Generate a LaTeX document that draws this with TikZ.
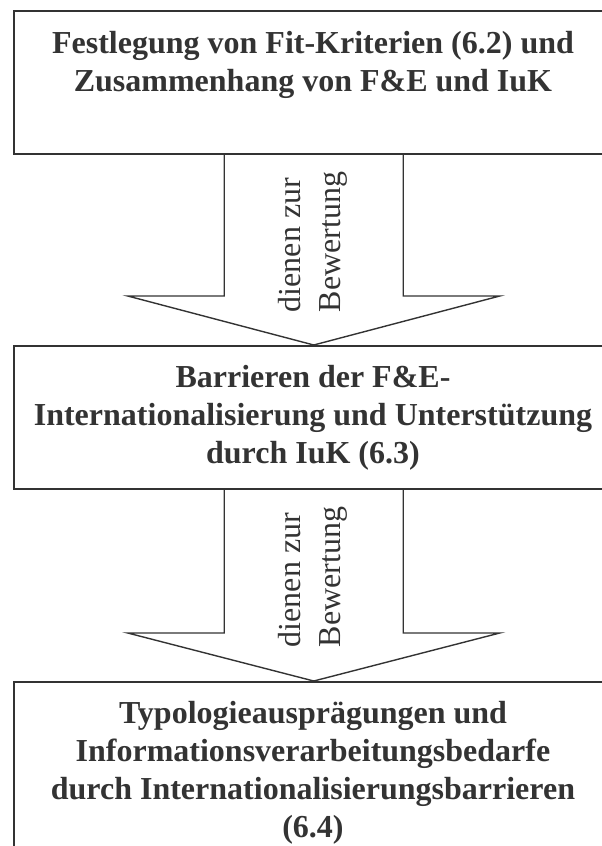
\documentclass[tikz,border=0pt]{standalone}
\usepackage{fontspec}
\setmainfont{Liberation Serif}
\usetikzlibrary{calc}
\definecolor{ink}{HTML}{333333}
\begin{document}
\begin{tikzpicture}[x=1pt,y=-1pt,
  stage/.style={draw=ink, line width=1.5pt, minimum width=600pt, anchor=north west, inner sep=0pt},
  stagetext/.style={text=ink, font=\fontsize{32}{38}\selectfont\bfseries, align=center, inner sep=0pt},
  flowarrow/.style={draw=ink, line width=1.4pt, line join=miter},
  flowtext/.style={text=ink, font=\fontsize{32}{40}\selectfont, align=left, rotate=90, inner sep=0pt}]
\useasboundingbox (0,0) rectangle (602,846);

% three stages
\node[stage, minimum height=143pt] (b1) at (13,10) {};
\node[stage, minimum height=143pt] (b2) at (13,345) {};
\node[stage, minimum height=200pt] (b3) at (13,681) {};

\node[stagetext] (t1) at (313,65) {Festlegung von Fit-Kriterien (6.2) und\\Zusammenhang von F\&E und IuK};
\node[stagetext] (t2) at (313,418) {Barrieren der F\&E-\\Internationalisierung und Unterstützung\\durch IuK (6.3)};
\node[stagetext] (t3) at (313,773) {Typologieausprägungen und\\Informationsverarbeitungsbedarfe\\durch Internationalisierungsbarrieren\\(6.4)};

% block arrows between the stages
\draw[flowarrow] ([xshift=-89.5pt]b1.south) |- ([xshift=-186pt,yshift=49pt]b2.north)
  -- (b2.north) -- ([xshift=186pt,yshift=49pt]b2.north) -| ([xshift=89.5pt]b1.south);
\draw[flowarrow] ([xshift=-89.5pt]b2.south) |- ([xshift=-186pt,yshift=48pt]b3.north)
  -- (b3.north) -- ([xshift=186pt,yshift=48pt]b3.north) -| ([xshift=89.5pt]b2.south);

\node[flowtext] (a1) at (313,242) {dienen zur\\Bewertung};
\node[flowtext] (a2) at (313,577) {dienen zur\\Bewertung};
\end{tikzpicture}
\end{document}
